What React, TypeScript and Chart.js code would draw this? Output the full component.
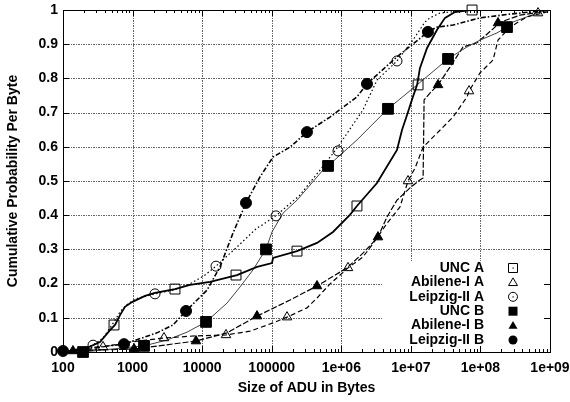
import React, { useEffect, useRef } from "react";
import { Chart, registerables } from "chart.js";

Chart.register(...registerables);

const xTickValues = [100, 1000, 10000, 100000, 1e6, 1e7, 1e8, 1e9];
const xTickLabels = ["100", "1000", "10000", "100000", "1e+06", "1e+07", "1e+08", "1e+09"];
const yTickValues = [0, 0.1, 0.2, 0.3, 0.4, 0.5, 0.6, 0.7, 0.8, 0.9, 1];
const yTickLabels = ["0", "0.1", "0.2", "0.3", "0.4", "0.5", "0.6", "0.7", "0.8", "0.9", "1"];
const seriesNames = ["UNC A", "Abilene-I A", "Leipzig-II A", "UNC B", "Abilene-I B", "Leipzig-II B"];

const uncAX = [100, 207, 340, 474, 559, 660, 778, 981, 1510, 2100, 4070, 6690, 12980, 31700, 61500, 100900, 104400, 231000, 448000, 760000, 1.33e6, 1.68e6, 3.26e6, 6.32e6, 7.46e6, 9.1e6, 1.07e7, 1.23e7, 1.35e7, 1.71e7, 2.38e7, 3.1e7, 4.3e7, 7.09e7, 1e9];
const uncAY = [0, 0.009, 0.029, 0.064, 0.079, 0.108, 0.132, 0.146, 0.164, 0.173, 0.184, 0.196, 0.205, 0.225, 0.249, 0.26, 0.275, 0.295, 0.319, 0.351, 0.401, 0.427, 0.494, 0.591, 0.649, 0.702, 0.746, 0.781, 0.83, 0.889, 0.942, 0.977, 0.994, 1, 1];
const uncAMarkX = [541, 4070, 30680, 231000, 1.68e6, 1.27e7, 7.58e7];
const uncAMarkY = [0.079, 0.184, 0.225, 0.295, 0.427, 0.781, 1.0];

const abilAX = [100, 207, 376, 918, 2830, 7890, 22030, 48800, 104400, 166000, 321000, 448000, 689000, 1.25e6, 2.05e6, 2.77e6, 4.69e6, 6.98e6, 9.1e6, 1.15e7, 1.5e7, 2.38e7, 4.04e7, 6.42e7, 6.86e7, 9.87e7, 1.52e8, 1.79e8, 2.66e8, 4.67e8, 9.06e8, 1e9];
const abilAY = [0, 0.006, 0.015, 0.029, 0.041, 0.047, 0.05, 0.061, 0.085, 0.102, 0.129, 0.158, 0.199, 0.246, 0.278, 0.313, 0.38, 0.424, 0.5, 0.538, 0.599, 0.64, 0.687, 0.746, 0.763, 0.816, 0.854, 0.912, 0.95, 0.98, 0.994, 1];
const abilAMarkX = [376, 2830, 22030, 166000, 1.25e6, 9.1e6, 6.86e7, 6.73e8];
const abilAMarkY = [0.015, 0.041, 0.05, 0.102, 0.246, 0.5, 0.763, 0.991];

const leipAX = [100, 175, 270, 376, 506, 660, 805, 1084, 2100, 3810, 6690, 11000, 15820, 31700, 61500, 72500, 119200, 255000, 495000, 868000, 2.05e6, 3.26e6, 6.32e6, 1.07e7, 1.6e7, 1.88e7, 2.62e7, 7.09e7, 1e9];
const leipAY = [0, 0.009, 0.02, 0.041, 0.079, 0.117, 0.137, 0.155, 0.17, 0.181, 0.199, 0.225, 0.251, 0.307, 0.363, 0.371, 0.401, 0.459, 0.532, 0.596, 0.708, 0.795, 0.851, 0.912, 0.965, 0.977, 0.991, 1, 1];
const leipAMarkX = [270, 2100, 15820, 115300, 897000, 6.32e6];
const leipAMarkY = [0.02, 0.17, 0.251, 0.398, 0.588, 0.851];

const uncBX = [100, 194, 1460, 3130, 6060, 11370, 22760, 35000, 53800, 82800, 100900, 145300, 231000, 546000, 645000, 1.68e6, 4.69e6, 1.23e7, 3.42e7, 6.42e7, 9.87e7, 1.73e8, 2.41e8, 2.94e8, 7.19e8, 1e9];
const uncBY = [0, 0, 0.018, 0.035, 0.058, 0.088, 0.143, 0.19, 0.24, 0.301, 0.351, 0.406, 0.444, 0.532, 0.544, 0.62, 0.711, 0.781, 0.857, 0.892, 0.912, 0.933, 0.95, 0.965, 0.994, 1];
const uncBMarkX = [194, 1460, 11370, 82800, 645000, 4.69e6, 3.42e7, 2.41e8];
const uncBMarkY = [0, 0.018, 0.088, 0.3, 0.544, 0.711, 0.857, 0.95];

const abilBX = [100, 139, 1050, 8160, 22760, 61500, 183300, 448000, 1.21e6, 2.05e6, 3.37e6, 4.54e6, 6.32e6, 9.72e6, 1.35e7, 1.5e7, 1.55e7, 1.88e7, 2.46e7, 3.65e7, 5.62e7, 8.94e7, 1.62e8, 1.79e8, 3.71e8, 7.19e8, 1e9];
const abilBY = [0, 0.003, 0.009, 0.032, 0.056, 0.105, 0.152, 0.193, 0.246, 0.289, 0.336, 0.395, 0.444, 0.48, 0.503, 0.509, 0.737, 0.757, 0.781, 0.833, 0.892, 0.904, 0.95, 0.962, 0.985, 0.994, 1];
const abilBMarkX = [139, 1050, 8160, 61500, 448000, 3.37e6, 2.46e7, 1.79e8];
const abilBMarkY = [0.003, 0.009, 0.032, 0.105, 0.193, 0.336, 0.781, 0.962];

const leipBX = [100, 753, 2240, 3810, 5870, 11750, 18060, 27780, 42700, 67900, 104400, 183300, 321000, 689000, 1.68e6, 2.34e6, 6.32e6, 1.76e7, 2.38e7, 4.04e7, 9.87e7, 2.66e8, 1e9];
const leipBY = [0.003, 0.023, 0.056, 0.079, 0.12, 0.181, 0.249, 0.348, 0.436, 0.512, 0.57, 0.599, 0.643, 0.687, 0.746, 0.784, 0.863, 0.936, 0.95, 0.956, 0.977, 0.988, 1];
const leipBMarkX = [100, 753, 5870, 42700, 321000, 2.34e6, 1.76e7];
const leipBMarkY = [0.003, 0.023, 0.12, 0.436, 0.643, 0.784, 0.936];

const lineXs = [uncAX, abilAX, leipAX, uncBX, abilBX, leipBX];
const lineYs = [uncAY, abilAY, leipAY, uncBY, abilBY, leipBY];
const markXs = [uncAMarkX, abilAMarkX, leipAMarkX, uncBMarkX, abilBMarkX, leipBMarkX];
const markYs = [uncAMarkY, abilAMarkY, leipAMarkY, uncBMarkY, abilBMarkY, leipBMarkY];

const FONT = "'Liberation Sans', Arial, Helvetica, sans-serif";

const lineStyles = [
  { color: "#000", width: 1.8, dash: [] as number[] },
  { color: "#000", width: 1.2, dash: [5, 3] },
  { color: "#000", width: 1.2, dash: [1.5, 2.5] },
  { color: "#444", width: 1.0, dash: [] as number[] },
  { color: "#000", width: 1.2, dash: [6, 2] },
  { color: "#000", width: 1.6, dash: [5, 2, 1.5, 2] },
];
const markStyles = [
  { style: "rect", radius: 7, filled: false },
  { style: "triangle", radius: 5.5, filled: false },
  { style: "circle", radius: 5, filled: false },
  { style: "rect", radius: 7.6, filled: true },
  { style: "triangle", radius: 5.5, filled: true },
  { style: "circle", radius: 5.5, filled: true },
];

function drawLegendMarker(ctx: CanvasRenderingContext2D, kind: number, x: number, y: number) {
  ctx.save();
  ctx.strokeStyle = "#000";
  ctx.fillStyle = "#000";
  ctx.lineWidth = 1;
  ctx.setLineDash([]);
  const s = 4.5;
  ctx.beginPath();
  if (kind === 0 || kind === 3) {
    ctx.rect(x - s, y - s, 2 * s, 2 * s);
  } else if (kind === 1 || kind === 4) {
    ctx.moveTo(x, y - s);
    ctx.lineTo(x + s, y + s * 0.7);
    ctx.lineTo(x - s, y + s * 0.7);
    ctx.closePath();
  } else {
    ctx.arc(x, y, s, 0, Math.PI * 2);
  }
  if (kind >= 3) ctx.fill();
  else ctx.stroke();
  if (kind === 0 || kind === 2) {
    ctx.fillRect(x - 0.5, y - 0.5, 1.2, 1.2);
  }
  ctx.restore();
}

const framePlugin = {
  id: "gnuFrame",
  beforeDatasetsDraw(chart: any) {
    const { ctx, chartArea: a, scales } = chart;
    const xs = scales.x;
    const ys = scales.y;
    ctx.save();
    ctx.strokeStyle = "#666666";
    ctx.lineWidth = 1;
    ctx.setLineDash([2, 1, 1, 1]);
    ctx.beginPath();
    for (const v of xTickValues) {
      const px = Math.round(xs.getPixelForValue(v)) + 0.5;
      ctx.moveTo(px, a.bottom);
      ctx.lineTo(px, a.top);
    }
    for (const v of yTickValues) {
      const py = Math.round(ys.getPixelForValue(v)) + 0.5;
      ctx.moveTo(a.left, py);
      ctx.lineTo(a.right, py);
    }
    ctx.stroke();
    ctx.setLineDash([]);
    ctx.fillStyle = "#ffffff";
    ctx.fillRect(a.right - 167, a.bottom - 91, 167, 91);
    ctx.restore();
  },
  afterDatasetsDraw(chart: any) {
    const { ctx, chartArea: a, scales } = chart;
    const xs = scales.x;
    const ys = scales.y;
    ctx.save();
    ctx.strokeStyle = "#000";
    ctx.lineWidth = 1;
    ctx.setLineDash([]);
    ctx.beginPath();
    for (const v of xTickValues) {
      const px = Math.round(xs.getPixelForValue(v)) + 0.5;
      ctx.moveTo(px, a.bottom);
      ctx.lineTo(px, a.bottom - 6);
      ctx.moveTo(px, a.top);
      ctx.lineTo(px, a.top + 6);
    }
    for (let i = 0; i < xTickValues.length - 1; i++) {
      for (let k = 2; k <= 9; k++) {
        const px = Math.round(xs.getPixelForValue(xTickValues[i] * k)) + 0.5;
        ctx.moveTo(px, a.bottom);
        ctx.lineTo(px, a.bottom - 3);
        ctx.moveTo(px, a.top);
        ctx.lineTo(px, a.top + 3);
      }
    }
    for (const v of yTickValues) {
      const py = Math.round(ys.getPixelForValue(v)) + 0.5;
      ctx.moveTo(a.left, py);
      ctx.lineTo(a.left + 6, py);
      ctx.moveTo(a.right, py);
      ctx.lineTo(a.right - 6, py);
    }
    ctx.stroke();
    ctx.strokeRect(Math.round(a.left) + 0.5, Math.round(a.top) + 0.5, Math.round(a.right - a.left), Math.round(a.bottom - a.top));
    ctx.restore();
  },
  afterDraw(chart: any) {
    const { ctx, chartArea: a } = chart;
    ctx.save();
    ctx.font = `bold 14px ${FONT}`;
    ctx.fillStyle = "#000";
    ctx.textAlign = "right";
    ctx.textBaseline = "middle";
    const textX = a.right - 66;
    const markX = a.right - 37;
    const y0 = a.bottom - 84;
    const step = 14.4;
    seriesNames.forEach((name, i) => {
      const y = y0 + i * step;
      ctx.fillText(name, textX, y);
      drawLegendMarker(ctx, i, markX, y);
    });
    ctx.restore();
  },
};

export default function App() {
  const canvasRef = useRef<HTMLCanvasElement | null>(null);

  useEffect(() => {
    const canvas = canvasRef.current;
    if (!canvas) return;
    const tickFont = { family: FONT, size: 14, weight: "bold" as const };

    const datasets: any[] = [];
    seriesNames.forEach((name, i) => {
      const ls = lineStyles[i];
      datasets.push({
        label: name,
        data: lineXs[i].map((x, j) => ({ x, y: lineYs[i][j] })),
        borderColor: ls.color,
        borderWidth: ls.width,
        borderDash: ls.dash,
        pointRadius: 0,
        fill: false,
        tension: 0,
        order: 1,
      });
    });
    seriesNames.forEach((name, i) => {
      const ms = markStyles[i];
      datasets.push({
        label: name + " markers",
        data: markXs[i].map((x, j) => ({ x, y: markYs[i][j] })),
        showLine: false,
        fill: false,
        pointStyle: ms.style,
        pointRadius: ms.radius,
        pointBorderWidth: 1,
        pointBorderColor: "#000",
        pointBackgroundColor: ms.filled ? "#000" : "rgba(0,0,0,0)",
        clip: false,
        order: 0,
      });
    });

    const chart = new Chart(canvas, {
      type: "line",
      data: { datasets },
      options: {
        responsive: false,
        animation: false,
        devicePixelRatio: 1,
        layout: { padding: 0 },
        plugins: { legend: { display: false }, tooltip: { enabled: false } },
        scales: {
          x: {
            type: "logarithmic",
            min: 100,
            max: 1e9,
            afterBuildTicks: (s: any) => {
              s.ticks = xTickValues.map((v) => ({ value: v }));
            },
            afterFit: (s: any) => {
              s.height = 50;
              s.paddingLeft = 0;
              s.paddingRight = 20;
            },
            ticks: {
              callback: (_v: any, i: number) => xTickLabels[i],
              autoSkip: false,
              maxRotation: 0,
              minRotation: 0,
              padding: 8,
              color: "#000",
              font: tickFont,
            },
            grid: { display: false, drawTicks: false },
            border: { display: false },
            title: {
              display: true,
              text: "Size of ADU in Bytes",
              color: "#000",
              font: tickFont,
              padding: { top: 0, bottom: 5.5 },
            },
          },
          y: {
            type: "linear",
            min: 0,
            max: 1,
            afterBuildTicks: (s: any) => {
              s.ticks = yTickValues.map((v) => ({ value: v }));
            },
            afterFit: (s: any) => {
              s.width = 63;
              s.paddingTop = 10;
              s.paddingBottom = 0;
            },
            ticks: {
              callback: (_v: any, i: number) => yTickLabels[i],
              padding: 5,
              color: "#000",
              font: tickFont,
            },
            grid: { display: false, drawTicks: false },
            border: { display: false },
            title: {
              display: true,
              text: "Cumulative Probability Per Byte",
              color: "#000",
              font: tickFont,
              padding: { top: 5, bottom: 0 },
            },
          },
        },
      } as any,
      plugins: [framePlugin],
    });

    return () => {
      chart.destroy();
    };
  }, []);

  return (
    <div style={{ position: "fixed", left: 0, top: 0, width: 570, height: 402, background: "#fff" }}>
      <canvas ref={canvasRef} width={570} height={402} style={{ display: "block" }} />
    </div>
  );
}
